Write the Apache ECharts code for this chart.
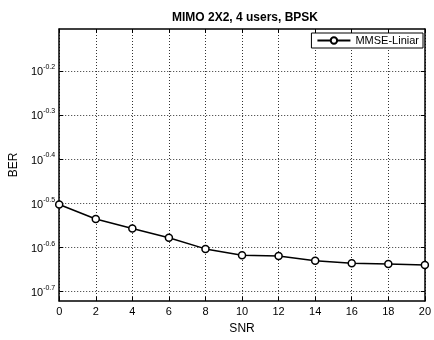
<!DOCTYPE html>
<html>
<head>
<meta charset="utf-8">
<script src="https://cdn.jsdelivr.net/npm/echarts@6/dist/echarts.min.js"></script>
<style>
  html, body { margin: 0; padding: 0; background: #fff; }
  #chart { width: 434px; height: 340px; }
</style>
</head>
<body>
<div id="chart"></div>
<script>
// SNR (dB) sweep and the measured bit error rate of the MMSE linear receiver
const snr = [0, 2, 4, 6, 8, 10, 12, 14, 16, 18, 20];
const berMmse = [0.314, 0.291, 0.277, 0.264, 0.249, 0.241, 0.240, 0.234, 0.231, 0.230, 0.229];

// Decade-fraction exponents used for the BER tick labels (10^e)
const berTickExponents = [-0.7, -0.6, -0.5, -0.4, -0.3, -0.2];
const berRangeExponents = [-0.722, -0.105];

const FONT = 'Liberation Sans, Arial, Helvetica, sans-serif';
const tickValues = berTickExponents.map(e => Math.pow(10, e));

const chart = echarts.init(document.getElementById('chart'), null, { renderer: 'canvas' });

const frameLine = { show: true, onZero: false, lineStyle: { color: '#000', width: 1.5 } };
const gridDots = { show: true, lineStyle: { color: '#333', type: [1, 2], width: 1 } };

chart.setOption({
  animation: false,
  backgroundColor: '#fff',
  title: {
    text: 'MIMO 2X2, 4 users, BPSK',
    left: 240, top: 7, textAlign: 'center',
    textStyle: { fontFamily: FONT, fontSize: 12, fontWeight: 'bold', color: '#000' }
  },
  legend: {
    right: 11, top: 33,
    orient: 'horizontal',
    backgroundColor: '#fff',
    borderColor: '#000', borderWidth: 1, borderRadius: 0,
    padding: [2, 4, 2, 5],
    itemWidth: 33, itemHeight: 8, itemGap: 4,
    textStyle: { fontFamily: FONT, fontSize: 11, color: '#000' },
    data: ['MMSE-Liniar']
  },
  grid: { left: 52, right: 6, top: 29, bottom: 34 },
  xAxis: [{
    type: 'value', min: 0, max: 20, interval: 2,
    name: 'SNR', nameLocation: 'middle', nameGap: 22,
    nameTextStyle: { fontFamily: FONT, fontSize: 12, color: '#000' },
    axisLine: frameLine,
    axisTick: { show: true, inside: true, length: 4, lineStyle: { color: '#000' } },
    axisLabel: { fontFamily: FONT, fontSize: 11, color: '#000', margin: 5 },
    splitLine: gridDots
  }, {
    type: 'value', min: 0, max: 20, interval: 2, position: 'top',
    axisLine: frameLine,
    axisTick: { show: true, inside: true, length: 4, lineStyle: { color: '#000' } },
    axisLabel: { show: false },
    splitLine: { show: false }
  }],
  yAxis: [{
    type: 'log', logBase: 10,
    min: Math.pow(10, berRangeExponents[0]), max: Math.pow(10, berRangeExponents[1]),
    name: 'BER', nameLocation: 'middle', nameGap: 35, nameRotate: 90,
    nameTextStyle: { fontFamily: FONT, fontSize: 12, color: '#000' },
    axisLine: frameLine,
    axisTick: { show: true, inside: true, length: 4, customValues: tickValues, lineStyle: { color: '#000' } },
    axisLabel: {
      customValues: tickValues,
      margin: 4,
      formatter: v => {
        const e = Math.round(Math.log10(v) * 10) / 10;
        return '{b|10}{s|' + e.toFixed(1) + '}';
      },
      rich: {
        b: { fontFamily: FONT, fontSize: 11, color: '#000', verticalAlign: 'bottom', lineHeight: 14 },
        s: { fontFamily: FONT, fontSize: 7, color: '#000', verticalAlign: 'top', lineHeight: 14, padding: [0, 0, 8, 0] }
      }
    },
    splitLine: gridDots
  }, {
    type: 'log', logBase: 10, position: 'right',
    min: Math.pow(10, berRangeExponents[0]), max: Math.pow(10, berRangeExponents[1]),
    axisLine: frameLine,
    axisTick: { show: true, inside: true, length: 4, customValues: tickValues, lineStyle: { color: '#000' } },
    axisLabel: { show: false },
    splitLine: { show: false }
  }],
  series: [{
    name: 'MMSE-Liniar',
    type: 'line',
    xAxisIndex: 0, yAxisIndex: 0,
    data: snr.map((s, i) => [s, berMmse[i]]),
    symbol: 'circle', symbolSize: 7,
    showAllSymbol: true,
    clip: false,
    lineStyle: { color: '#000', width: 1.5 },
    itemStyle: { color: '#fff', borderColor: '#000', borderWidth: 1.5 },
    z: 5
  }]
});
</script>
</body>
</html>
